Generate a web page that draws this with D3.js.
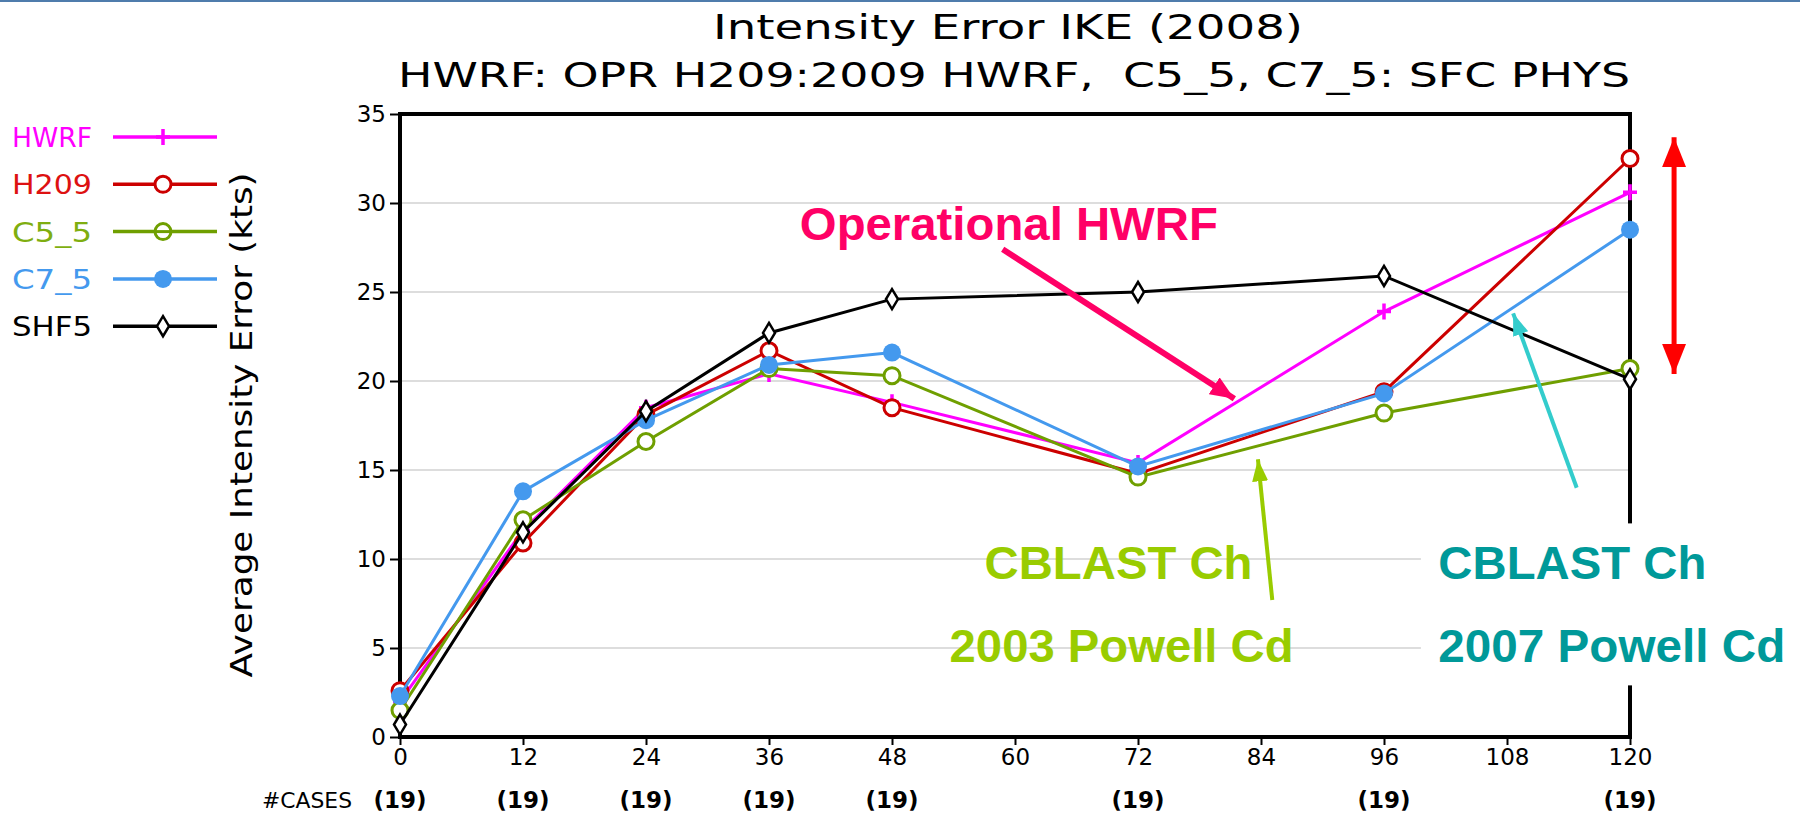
<!DOCTYPE html>
<html lang="en">
    <head>
        <meta charset="utf-8" />
        <title>Intensity Error IKE (2008)</title>
        <script src="https://d3js.org/d3.v7.min.js" charset="utf-8"></script>
        <style type="text/css">
            body { margin: 0; background: #fff; }
            svg { display: block; }
        </style>
    </head>
    <body>
        <script type="text/javascript">
            // forecast hours and the values
            var hours = [0, 12, 24, 36, 48, 72, 96, 120];
            var xTicks = [0, 12, 24, 36, 48, 60, 72, 84, 96, 108, 120];
            var yTicks = [0, 5, 10, 15, 20, 25, 30, 35];
            var cases = ["(19)", "(19)", "(19)", "(19)", "(19)", "(19)", "(19)", "(19)"];

            var hwrf = [2.0, 11.6, 18.5, 20.4, 18.8, 15.4, 23.9, 30.6];
            var h209 = [2.6, 10.9, 18.1, 21.7, 18.5, 14.8, 19.4, 32.5];
            var c5_5 = [1.5, 12.2, 16.6, 20.7, 20.3, 14.6, 18.2, 20.7];
            var c7_5 = [2.3, 13.8, 17.8, 20.9, 21.6, 15.2, 19.3, 28.5];
            var shf5 = [0.7, 11.5, 18.3, 22.7, 24.6, 25.0, 25.9, 20.1];

            var series = [
                { name: "HWRF", values: hwrf, color: "#ff00ff", text: "#ff00ff", mark: "plus" },
                { name: "H209", values: h209, color: "#cc0000", text: "#dd1111", mark: "open" },
                { name: "C5_5", values: c5_5, color: "#6f9f00", text: "#7fae10", mark: "open" },
                { name: "C7_5", values: c7_5, color: "#4499ee", text: "#4499ee", mark: "dot" },
                { name: "SHF5", values: shf5, color: "#000000", text: "#000000", mark: "diamond" }
            ];

            var W = 1800, H = 815;
            var svg = d3.select("body").append("svg")
                .attr("width", W).attr("height", H);

            var x = d3.scaleLinear().domain([0, 120]).range([400, 1630]);
            var y = d3.scaleLinear().domain([0, 35]).range([737, 114]);

            // thin slide border on top
            svg.append("rect").attr("x", 0).attr("y", 0).attr("width", W).attr("height", 2).attr("fill", "#4f7cac");

            // titles
            svg.append("text").attr("x", 1008).attr("y", 39)
                .attr("text-anchor", "middle").attr("textLength", 590).attr("lengthAdjust", "spacingAndGlyphs")
                .style("font-family", "DejaVu Sans").style("font-size", "33px")
                .text("Intensity Error IKE (2008)");
            svg.append("text").attr("x", 1014).attr("y", 87)
                .attr("text-anchor", "middle").attr("textLength", 1232).attr("lengthAdjust", "spacingAndGlyphs")
                .style("font-family", "DejaVu Sans").style("font-size", "33px")
                .style("white-space", "pre")
                .text("HWRF: OPR H209:2009 HWRF,  C5_5, C7_5: SFC PHYS");

            // grid
            svg.append("g").selectAll("line")
                .data(yTicks.filter(function (d) { return d > 0 && d < 35; }))
                .enter().append("line")
                .attr("x1", x(0)).attr("x2", x(120))
                .attr("y1", function (d) { return y(d); })
                .attr("y2", function (d) { return y(d); })
                .attr("stroke", "#dddddd").attr("stroke-width", 2);

            // axes
            var yAxis = svg.append("g").attr("transform", "translate(" + x(0) + ",0)")
                .call(d3.axisLeft(y).tickValues(yTicks).tickSize(10).tickPadding(4));
            var xAxis = svg.append("g").attr("transform", "translate(0," + y(0) + ")")
                .call(d3.axisBottom(x).tickValues(xTicks).tickSize(8).tickPadding(4));
            [yAxis, xAxis].forEach(function (g) {
                g.select(".domain").remove();
                g.selectAll(".tick line").attr("stroke", "#000").attr("stroke-width", 2);
                g.selectAll(".tick text").attr("fill", "#000")
                    .style("font-family", "DejaVu Sans").style("font-size", "23px");
            });

            // frame
            svg.append("rect")
                .attr("x", x(0)).attr("y", y(35))
                .attr("width", x(120) - x(0)).attr("height", y(0) - y(35))
                .attr("fill", "none").attr("stroke", "#000").attr("stroke-width", 4);

            // y label
            svg.append("text")
                .attr("transform", "translate(252,425) rotate(-90)")
                .attr("text-anchor", "middle").attr("textLength", 505).attr("lengthAdjust", "spacingAndGlyphs")
                .style("font-family", "DejaVu Sans").style("font-size", "31px")
                .text("Average Intensity Error (kts)");

            // cases row
            svg.append("text").attr("x", 352).attr("y", 808).attr("text-anchor", "end")
                .attr("textLength", 90).attr("lengthAdjust", "spacingAndGlyphs")
                .style("font-family", "DejaVu Sans").style("font-size", "22px")
                .text("#CASES");
            svg.append("g").selectAll("text")
                .data(hours)
                .enter().append("text")
                .attr("x", function (d) { return x(d); })
                .attr("y", 808)
                .attr("text-anchor", "middle")
                .style("font-family", "DejaVu Sans").style("font-size", "23px").style("font-weight", "bold")
                .text(function (d, i) { return cases[i]; });

            function drawMark(g, s) {
                if (s.mark === "plus") {
                    g.append("path").attr("d", "M-7,0H7M0,-8V8")
                        .attr("stroke", s.color).attr("stroke-width", 3.5).attr("fill", "none");
                } else if (s.mark === "open") {
                    g.append("circle").attr("r", 8).attr("fill", "#fff")
                        .attr("stroke", s.color).attr("stroke-width", 3);
                } else if (s.mark === "dot") {
                    g.append("circle").attr("r", 9).attr("fill", s.color);
                } else {
                    g.append("path").attr("d", "M0,-10L6,0L0,10L-6,0Z").attr("fill", "#fff")
                        .attr("stroke", s.color).attr("stroke-width", 2.5);
                }
            }

            var line = d3.line()
                .x(function (d, i) { return x(hours[i]); })
                .y(function (d) { return y(d); });

            series.forEach(function (s) {
                svg.append("path").datum(s.values)
                    .attr("d", line)
                    .attr("fill", "none")
                    .attr("stroke", s.color)
                    .attr("stroke-width", 3);
                svg.append("g").selectAll("g")
                    .data(s.values)
                    .enter().append("g")
                    .attr("transform", function (d, i) { return "translate(" + x(hours[i]) + "," + y(d) + ")"; })
                    .each(function () { drawMark(d3.select(this), s); });
            });

            // legend
            var legend = svg.append("g").selectAll("g")
                .data(series)
                .enter().append("g")
                .attr("transform", function (d, i) { return "translate(0," + (137 + i * 47.3) + ")"; });
            legend.append("text")
                .attr("x", 12).attr("y", 10)
                .attr("textLength", 80).attr("lengthAdjust", "spacingAndGlyphs")
                .attr("fill", function (d) { return d.text; })
                .style("font-family", "DejaVu Sans").style("font-size", "27px")
                .text(function (d) { return d.name; });
            legend.append("line")
                .attr("x1", 113).attr("x2", 217)
                .attr("stroke", function (d) { return d.color; })
                .attr("stroke-width", 3.5);
            legend.append("g").attr("transform", "translate(163,0)")
                .each(function (d) {
                    drawMark(d3.select(this), d);
                    if (d.name === "C5_5") {
                        d3.select(this).append("line").attr("x1", -8).attr("x2", 8)
                            .attr("stroke", d.color).attr("stroke-width", 3);
                    }
                });

            // annotations (in data units)
            var defs = svg.append("defs");
            function head(id, color, len, wid) {
                defs.append("marker").attr("id", id)
                    .attr("markerUnits", "userSpaceOnUse")
                    .attr("viewBox", "0 0 " + len + " " + wid)
                    .attr("refX", len).attr("refY", wid / 2)
                    .attr("markerWidth", len).attr("markerHeight", wid)
                    .attr("orient", "auto-start-reverse")
                    .append("path").attr("d", "M0,0L" + len + "," + (wid / 2) + "L0," + wid + "Z")
                    .attr("fill", color);
            }
            head("hPink", "#ff0066", 24, 20);
            head("hGreen", "#99cc00", 22, 16);
            head("hCyan", "#33cccc", 22, 16);
            head("hRed", "#ff0000", 30, 24);

            // white box behind the right-hand labels
            svg.append("rect")
                .attr("x", x(99.6)).attr("y", y(12.0))
                .attr("width", W - x(99.6)).attr("height", y(2.9) - y(12.0))
                .attr("fill", "#fff");

            var arrows = [
                { x1: 58.8, y1: 27.4, x2: 81.4, y2: 19.0, color: "#ff0066", w: 6, id: "hPink", both: false },
                { x1: 85.1, y1: 7.7, x2: 83.7, y2: 15.6, color: "#99cc00", w: 4, id: "hGreen", both: false },
                { x1: 114.8, y1: 14.0, x2: 108.6, y2: 23.8, color: "#33cccc", w: 4, id: "hCyan", both: false },
                { x1: 124.3, y1: 20.4, x2: 124.3, y2: 33.7, color: "#ff0000", w: 5, id: "hRed", both: true }
            ];
            svg.append("g").selectAll("line")
                .data(arrows)
                .enter().append("line")
                .attr("x1", function (d) { return x(d.x1); })
                .attr("y1", function (d) { return y(d.y1); })
                .attr("x2", function (d) { return x(d.x2); })
                .attr("y2", function (d) { return y(d.y2); })
                .attr("stroke", function (d) { return d.color; })
                .attr("stroke-width", function (d) { return d.w; })
                .attr("marker-end", function (d) { return "url(#" + d.id + ")"; })
                .attr("marker-start", function (d) { return d.both ? "url(#" + d.id + ")" : null; });

            var notes = [
                { text: "Operational HWRF", x: 59.4, y: 27.9, anchor: "middle", len: 418, color: "#ff0066" },
                { text: "CBLAST Ch", x: 70.1, y: 8.9, anchor: "middle", len: 268, color: "#99cc00" },
                { text: "2003 Powell Cd", x: 70.4, y: 4.2, anchor: "middle", len: 344, color: "#99cc00" },
                { text: "CBLAST Ch", x: 101.3, y: 8.9, anchor: "start", len: 268, color: "#009999" },
                { text: "2007 Powell Cd", x: 101.3, y: 4.2, anchor: "start", len: 347, color: "#009999" }
            ];
            svg.append("g").selectAll("text")
                .data(notes)
                .enter().append("text")
                .attr("x", function (d) { return x(d.x); })
                .attr("y", function (d) { return y(d.y); })
                .attr("text-anchor", function (d) { return d.anchor; })
                .attr("textLength", function (d) { return d.len; })
                .attr("lengthAdjust", "spacingAndGlyphs")
                .attr("fill", function (d) { return d.color; })
                .style("font-family", "Liberation Sans").style("font-weight", "bold").style("font-size", "47px")
                .text(function (d) { return d.text; });
        </script>
    </body>
</html>
